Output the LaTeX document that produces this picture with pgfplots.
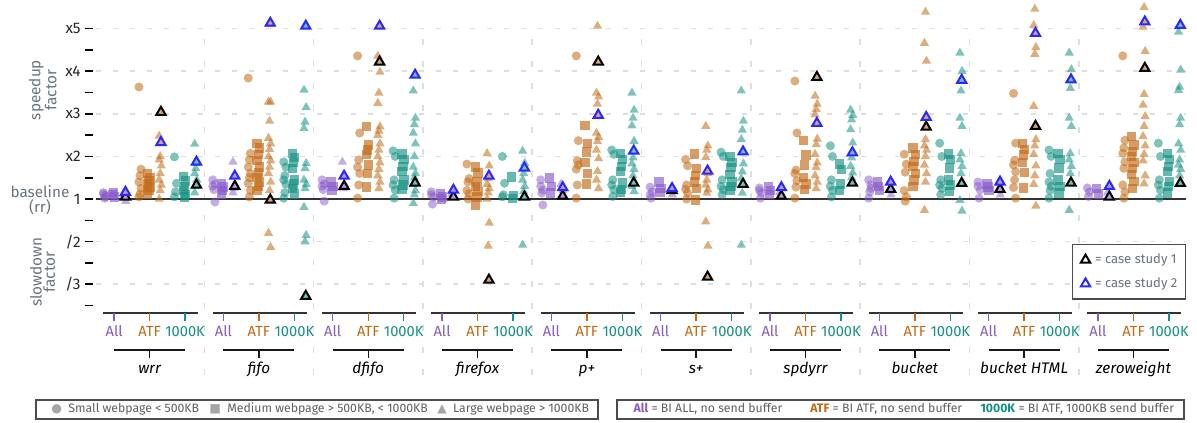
\documentclass[border=0pt]{standalone}
\usepackage{fontspec}
\setmainfont{Fira Sans}
\newfontfamily\symfont{DejaVu Sans}
\usepackage{pgfplots}
\pgfplotsset{compat=1.18}
\usepackage{pgfplotstable}

\definecolor{cAll}{RGB}{135,90,200}
\definecolor{cATF}{RGB}{195,105,20}
\definecolor{cK}{RGB}{20,145,130}
\definecolor{cBlue}{RGB}{40,40,255}
\definecolor{txtgray}{RGB}{105,115,125}
\definecolor{leggray}{RGB}{95,95,95}
\definecolor{gridgray}{RGB}{222,222,222}

% y unit: speedup s -> s-1, slowdown 1/s -> -(s-1)
% x: group g at 3.08*g, configs All/ATF/1000K at +0/+1/+2
\pgfplotstableread{
x y
-0.30 0.15
-0.24 0.08
-0.27 0.02
-0.30 0.12
-0.24 0.05
2.78 0.45
2.84 0.35
2.81 0.22
2.78 0.30
2.84 -0.07
5.86 0.45
5.92 0.35
5.89 0.22
5.86 0.30
5.92 -0.05
8.94 0.17
9.00 0.05
8.97 -0.12
8.94 0.10
12.02 0.45
12.08 0.21
12.05 0.14
12.02 0.30
12.08 -0.14
15.10 0.28
15.16 0.17
15.13 0.02
15.10 0.10
18.18 0.26
18.24 0.14
18.21 0.02
18.18 0.20
21.26 0.45
21.32 0.33
21.29 0.17
21.26 0.02
21.32 0.25
24.34 0.40
24.40 0.21
24.37 0.02
24.34 0.30
27.42 0.26
27.48 0.17
27.45 0.06
}\allC
\pgfplotstableread{
x y
-0.05 0.10
0.01 0.05
-0.02 0.15
3.03 0.35
3.09 0.28
3.06 0.20
3.03 0.12
6.11 0.40
6.17 0.30
6.14 0.20
9.19 0.12
9.25 0.05
9.22 0.00
12.27 0.49
12.33 0.30
12.30 0.14
15.35 0.40
15.41 0.25
15.38 0.15
18.43 0.30
18.49 0.20
18.46 0.10
21.51 0.40
21.57 0.20
21.54 0.30
24.59 0.35
24.65 0.20
24.62 0.28
27.67 0.25
27.73 0.12
}\allS
\pgfplotstableread{
x y
0.27 0.10
0.33 -0.05
0.30 0.05
3.35 0.87
3.41 0.35
3.38 0.25
3.35 0.15
6.43 0.87
6.49 0.35
6.46 0.25
9.51 0.12
9.57 0.05
12.59 0.35
12.65 0.20
12.62 0.10
15.67 0.20
15.73 0.10
18.75 0.15
18.81 0.05
21.83 0.20
21.89 0.10
24.91 0.20
24.97 0.10
27.99 0.15
28.05 0.05
}\allT
\pgfplotstableread{
x y
0.70 2.63
0.76 0.70
0.73 0.55
0.70 0.40
0.76 0.25
0.73 0.12
0.70 0.05
3.78 2.84
3.84 1.07
3.81 0.92
3.78 0.75
3.84 0.60
3.81 0.50
3.78 0.37
3.84 0.20
3.81 0.05
6.86 3.36
6.92 1.55
6.89 0.92
6.86 0.75
6.92 0.60
6.89 0.33
6.86 0.02
9.94 0.82
10.00 0.48
9.97 0.40
9.94 0.20
10.00 0.12
9.97 0.00
13.02 3.36
13.08 1.37
13.05 0.90
13.02 0.70
13.08 0.80
13.05 0.33
13.02 0.02
16.10 0.93
16.16 0.78
16.13 0.33
16.10 0.23
16.16 0.14
16.13 0.00
19.18 2.77
19.24 1.55
19.21 0.68
19.18 0.60
19.24 0.43
19.21 0.28
19.18 0.02
22.26 1.05
22.32 0.82
22.29 0.63
22.26 0.20
22.32 0.05
22.29 -0.05
25.34 2.48
25.40 1.31
25.37 0.91
25.34 0.80
25.40 0.64
25.37 0.45
25.34 0.27
25.40 0.02
28.42 3.36
28.48 1.38
28.45 1.20
28.42 1.07
28.48 0.87
28.45 0.72
28.42 0.33
28.48 0.17
28.45 0.02
}\atfC
\pgfplotstableread{
x y
0.95 0.60
1.01 0.50
0.98 0.42
0.95 0.35
1.01 0.28
0.98 0.20
0.95 0.12
4.03 1.31
4.09 1.20
4.06 1.05
4.03 0.90
4.09 0.75
4.06 0.62
4.03 0.50
4.09 0.40
4.06 0.30
4.03 0.20
7.11 1.71
7.17 1.27
7.14 1.15
7.11 1.05
7.17 0.80
7.14 0.60
7.11 0.28
10.19 0.75
10.25 0.61
10.22 0.40
10.19 0.30
10.25 0.17
10.22 0.05
10.19 -0.14
13.27 1.72
13.33 1.30
13.30 1.10
13.27 0.85
13.33 0.60
13.30 0.35
16.35 1.06
16.41 0.72
16.38 0.55
16.35 0.40
16.41 0.25
16.38 -0.02
19.43 1.38
19.49 1.03
19.46 0.80
19.43 0.50
19.49 0.35
19.46 0.22
22.51 1.20
22.57 1.05
22.54 0.88
22.51 0.77
22.57 0.60
22.54 0.45
22.51 0.30
25.59 1.30
25.65 1.16
25.62 1.03
25.59 0.85
25.65 0.62
25.62 0.26
28.67 1.47
28.73 1.27
28.70 1.11
28.67 1.00
28.73 0.85
28.70 0.72
28.67 0.57
28.73 0.41
28.70 0.25
}\atfS
\pgfplotstableread{
x y
1.27 1.48
1.33 1.31
1.30 1.00
1.27 0.92
1.33 0.78
1.30 0.60
1.27 0.45
1.33 0.33
1.30 0.20
1.27 0.00
4.38 4.10
4.35 2.28
4.41 2.28
4.38 1.83
4.35 1.43
4.41 1.30
4.38 1.17
4.35 1.00
4.41 0.90
4.38 0.75
4.35 0.60
4.41 0.40
4.38 0.20
4.35 -0.80
4.41 -1.13
7.43 3.36
7.49 2.98
7.46 2.49
7.43 2.25
7.49 1.70
7.46 1.60
7.43 1.50
7.49 1.30
7.46 1.15
7.43 1.00
7.49 0.85
7.46 0.70
7.43 0.55
7.49 0.40
7.46 0.25
10.51 1.07
10.57 0.78
10.54 0.48
10.51 0.35
10.57 0.25
10.54 0.15
10.51 0.00
10.57 -0.56
10.54 -1.10
13.62 4.06
13.59 2.49
13.65 2.40
13.62 2.23
13.59 1.55
13.65 1.45
13.62 1.35
13.59 1.15
13.65 0.95
13.62 0.65
13.59 0.45
13.65 0.25
16.67 1.71
16.73 1.25
16.70 1.15
16.67 0.98
16.73 0.60
16.70 0.45
16.67 0.33
16.73 0.22
16.70 0.14
16.67 -0.53
16.73 -1.10
19.75 2.42
19.81 2.23
19.78 2.11
19.75 1.98
19.81 1.41
19.78 1.28
19.75 1.05
19.81 0.85
19.78 0.74
19.75 0.55
19.81 0.40
19.78 0.25
22.86 4.39
22.83 3.66
22.89 3.24
22.86 1.40
22.83 1.25
22.89 1.15
22.86 1.00
22.83 0.80
22.89 0.60
22.86 0.40
22.83 -0.26
25.94 4.46
25.91 4.08
25.97 3.56
25.94 3.40
25.91 2.18
25.97 1.40
25.94 1.25
25.91 1.05
25.97 0.78
25.94 0.55
25.91 0.35
25.97 -0.16
29.02 4.50
28.99 4.04
29.05 3.47
29.02 2.46
28.99 2.21
29.05 1.94
29.02 1.71
28.99 1.47
29.05 1.25
29.02 1.05
28.99 0.90
29.05 0.55
29.02 0.36
}\atfT
\pgfplotstableread{
x y
1.70 0.99
1.76 0.37
1.73 0.17
1.70 0.05
4.78 0.87
4.84 0.75
4.81 0.55
4.78 0.45
4.84 0.35
4.81 0.15
4.78 0.02
7.86 1.13
7.92 1.00
7.89 0.45
7.86 0.33
7.92 0.21
7.89 0.02
10.94 1.00
11.00 0.37
10.97 0.10
10.94 0.05
14.02 1.15
14.08 1.05
14.05 0.45
14.02 0.33
14.08 0.22
14.05 0.06
17.10 1.10
17.16 1.00
17.13 0.45
17.10 0.30
17.16 0.22
17.13 0.10
20.18 1.25
20.24 1.00
20.21 0.45
20.18 0.30
20.24 0.20
20.21 0.05
23.26 1.31
23.32 1.00
23.29 0.45
23.26 0.33
23.32 0.25
23.29 0.10
26.34 1.15
26.40 1.00
26.37 0.60
26.34 0.40
26.40 0.30
26.37 0.20
26.34 0.02
29.42 1.31
29.48 1.00
29.45 0.45
29.42 0.33
29.48 0.21
29.45 0.02
}\kC
\pgfplotstableread{
x y
1.95 0.53
2.01 0.42
1.98 0.30
1.95 0.20
2.01 0.10
1.98 0.05
5.03 1.07
5.09 0.97
5.06 0.85
5.03 0.72
5.09 0.45
5.06 0.35
5.03 0.25
5.09 0.12
8.11 1.06
8.17 0.92
8.14 0.77
8.11 0.65
8.17 0.45
8.14 0.33
8.11 0.22
11.19 0.52
11.25 0.08
11.22 0.02
14.27 1.07
14.33 0.92
14.30 0.77
14.27 0.65
14.33 0.38
14.30 0.22
14.27 0.15
17.35 1.00
17.41 0.86
17.38 0.74
17.35 0.58
17.41 0.40
17.38 0.30
17.35 0.20
20.43 0.82
20.49 0.70
20.46 0.35
20.43 0.20
23.51 1.06
23.57 0.92
23.54 0.73
23.51 0.45
23.57 0.33
23.54 0.18
26.59 1.07
26.65 0.92
26.62 0.73
26.59 0.45
26.65 0.30
26.62 0.14
29.67 1.07
29.73 0.92
29.70 0.77
29.67 0.65
29.73 0.41
29.70 0.30
29.67 0.14
}\kS
\pgfplotstableread{
x y
2.27 1.29
2.33 0.84
2.30 0.72
2.27 0.60
2.33 0.45
2.30 0.30
2.27 0.15
5.35 2.56
5.41 2.15
5.38 1.81
5.35 1.66
5.41 0.84
5.38 0.72
5.35 0.45
5.41 0.35
5.38 0.25
5.35 -0.19
5.41 -0.85
5.38 -1.00
8.43 2.54
8.49 1.90
8.46 1.75
8.43 1.55
8.49 1.30
8.46 1.00
8.43 0.75
8.49 0.60
8.46 0.50
8.43 0.35
8.49 0.20
8.46 0.10
8.43 -0.10
11.51 1.13
11.57 0.84
11.54 0.60
11.51 0.45
11.57 0.30
11.54 0.18
11.51 -1.08
14.59 2.49
14.65 2.09
14.62 1.90
14.59 1.72
14.65 1.36
14.62 0.97
14.59 0.83
14.65 0.70
14.62 0.55
14.59 0.30
14.65 0.18
17.67 2.54
17.73 1.83
17.70 1.62
17.67 1.40
17.73 0.83
17.70 0.64
17.67 0.48
17.73 0.33
17.70 0.14
17.67 -1.08
20.75 2.09
20.81 1.97
20.78 1.86
20.75 1.63
20.81 1.32
20.78 0.97
20.75 0.77
20.81 0.62
20.78 0.50
23.83 3.43
23.89 3.00
23.86 2.54
23.83 1.90
23.89 1.71
23.86 1.07
23.83 0.92
23.89 0.77
23.86 0.60
23.83 -0.03
23.89 -0.28
26.91 3.43
26.97 3.04
26.94 2.60
26.91 1.90
26.97 1.71
26.94 1.07
26.91 0.92
26.97 0.77
26.94 0.60
26.91 -0.26
29.99 3.92
30.05 3.03
30.02 2.63
29.99 2.55
30.05 1.90
30.02 1.75
29.99 1.30
30.05 1.15
30.02 0.92
29.99 0.80
30.05 0.70
30.02 0.55
}\kT
% case studies, split by configuration
\pgfplotstableread{
x y
0.32 0.05
3.40 0.30
6.48 0.30
9.56 0.05
12.64 0.07
15.72 0.20
18.80 0.07
21.88 0.23
24.96 0.23
28.04 0.05
}\caseOneAll
\pgfplotstableread{
x y
1.32 2.04
4.40 -0.02
7.48 3.22
10.56 -1.90
13.64 3.22
16.72 -1.83
19.80 2.86
22.88 1.69
25.96 1.71
29.04 3.07
}\caseOneATF
\pgfplotstableread{
x y
2.32 0.33
5.40 -2.28
8.48 0.38
11.56 0.05
14.64 0.38
17.72 0.35
20.80 0.38
23.88 0.37
26.96 0.38
30.04 0.37
}\caseOneK
\pgfplotstableread{
x y
0.32 0.16
3.40 0.54
6.48 0.54
9.56 0.21
12.64 0.27
15.72 0.25
18.80 0.27
21.88 0.40
24.96 0.40
28.04 0.30
}\caseTwoAll
\pgfplotstableread{
x y
1.32 1.33
4.40 4.13
7.48 4.06
10.56 0.54
13.64 1.97
16.72 0.66
19.80 1.78
22.88 1.92
25.96 3.89
29.04 4.16
}\caseTwoATF
\pgfplotstableread{
x y
2.32 0.87
5.40 4.06
8.48 2.91
11.56 0.73
14.64 1.13
17.72 1.11
20.80 1.09
23.88 2.79
26.96 2.80
30.04 4.08
}\caseTwoK

\newcommand\ticklabfont{\fontsize{11}{12}\selectfont}
\newcommand\grpfont{\fontsize{11.5}{12}\selectfont\itshape}
% #1 All, #2 ATF, #3 1000K positions, #4/#5 segment ends, #6 name
\newcommand\grp[6]{%
  \draw[black!80, line width=1.5pt] (axis cs:#4,-2.68) -- (axis cs:#5,-2.68);
  \draw[cAll, line width=1.1pt] (axis cs:#1,-2.68) -- ++(0pt,-6pt);
  \draw[cATF, line width=1.1pt] (axis cs:#2,-2.68) -- ++(0pt,-6pt);
  \draw[cK, line width=1.1pt] (axis cs:#3,-2.68) -- ++(0pt,-6pt);
  \node[text=cAll, font=\ticklabfont, inner sep=0pt] at ([yshift=-13.5pt]axis cs:#1,-2.68) {All};
  \node[text=cATF, font=\ticklabfont, inner sep=0pt] at ([yshift=-13.5pt]axis cs:#2,-2.68) {ATF};
  \node[text=cK, font=\ticklabfont, inner sep=0pt] at ([yshift=-13.5pt]axis cs:#3,-2.68) {1000K};
  \draw[black!90, line width=1.1pt] ([yshift=-27.75pt]axis cs:#1,-2.68) -- ([yshift=-27.75pt]axis cs:#3,-2.68);
  \draw[black!90, line width=1.1pt] ([yshift=-27.75pt]axis cs:#2,-2.68) -- ++(0pt,-6pt);
  \node[anchor=base, font=\grpfont, inner sep=0pt] at ([yshift=-45pt]axis cs:#2,-2.68) {#6};
}

\begin{document}
\begin{tikzpicture}
\path[use as bounding box] (-72pt,-82.35pt) rectangle (825.75pt,234.9pt);
\begin{axis}[
  at={(0,0)}, anchor=south west,
  scale only axis, width=817.5pt, height=232.6pt,
  xmin=-0.51, xmax=30.2, ymin=-2.68, ymax=4.6,
  clip=false,
  axis x line=none,
  axis y line*=left,
  y axis line style={draw=none},
  ytick={-2,-1,0,1,2,3,4},
  yticklabels={/3,/2,1,x2,x3,x4,x5},
  minor ytick={-2.5,-1.5,-0.5,0.5,1.5,2.5,3.5},
  tick align=outside,
  major tick length=6pt, minor tick length=6pt,
  ytick style={draw=none},
  yticklabel style={font=\fontsize{11.5}{12}\selectfont, text=black!85, xshift=-2pt},
  ymajorgrids,
  major grid style={gridgray, line width=1.1pt, dash pattern=on 3.75pt off 9pt},
  legend style={at={(axis cs:26.99,-1.06)}, anchor=north west,
    draw=black!70, line width=0.8pt, fill=white,
    font=\fontsize{9.8}{11}\selectfont, text=txtgray,
    inner xsep=4pt, inner ysep=5pt, row sep=5pt},
  legend cell align=left,
  legend image code/.code={%
    \path[draw=none, fill=none] (0cm,-0.1cm) rectangle (0.38cm,0.1cm);
    \draw[mark repeat=2, mark phase=2, #1] plot coordinates {(0cm,0cm) (0.2cm,0cm) (0.4cm,0cm)};},
]
% group separators and baseline
\pgfplotsinvokeforeach{2.54,5.62,8.70,11.78,14.86,17.94,21.02,24.10,27.18}{
  \draw[gridgray, line width=1.1pt, dash pattern=on 4.5pt off 12pt] (axis cs:#1,3.75) -- (axis cs:#1,-4.30);
}
\draw[black!80, line width=1.4pt] (axis cs:-0.51,0) -- (axis cs:30.2,0);
% y tick marks, set off from the plot edge
\pgfplotsinvokeforeach{-2.5,-2,-1.5,-1,-0.5,0,0.5,1,1.5,2,2.5,3,3.5,4}{
  \draw[black, line width=1.2pt] ([xshift=-8.5pt]axis cs:-0.51,#1) -- ([xshift=-2.5pt]axis cs:-0.51,#1);
}

\addlegendimage{only marks, mark=triangle*, mark options={draw=black, fill=white, line width=1.5pt, mark size=4pt}}
\addlegendentry{= case study 1}
\addlegendimage{only marks, mark=triangle*, mark options={draw=cBlue, fill=white, line width=1.5pt, mark size=4pt}}
\addlegendentry{= case study 2}

% small (circles), medium (squares), large (triangles)
\addplot[forget plot, only marks, mark=*, mark options={draw opacity=0, fill=cAll, fill opacity=0.5, mark size=3.4pt}] table {\allC};
\addplot[forget plot, only marks, mark=square*, mark options={draw opacity=0, fill=cAll, fill opacity=0.65, mark size=3.5pt}] table {\allS};
\addplot[forget plot, only marks, mark=triangle*, mark options={draw opacity=0, fill=cAll, fill opacity=0.5, mark size=4pt}] table {\allT};
\addplot[forget plot, only marks, mark=*, mark options={draw opacity=0, fill=cATF, fill opacity=0.55, mark size=3.4pt}] table {\atfC};
\addplot[forget plot, only marks, mark=square*, mark options={draw opacity=0, fill=cATF, fill opacity=0.65, mark size=3.5pt}] table {\atfS};
\addplot[forget plot, only marks, mark=triangle*, mark options={draw opacity=0, fill=cATF, fill opacity=0.55, mark size=4pt}] table {\atfT};
\addplot[forget plot, only marks, mark=*, mark options={draw opacity=0, fill=cK, fill opacity=0.55, mark size=3.4pt}] table {\kC};
\addplot[forget plot, only marks, mark=square*, mark options={draw opacity=0, fill=cK, fill opacity=0.65, mark size=3.5pt}] table {\kS};
\addplot[forget plot, only marks, mark=triangle*, mark options={draw opacity=0, fill=cK, fill opacity=0.55, mark size=4pt}] table {\kT};

% case studies
\addplot[forget plot, only marks, mark=triangle*, mark options={draw=black, fill=cAll!60, line width=1.5pt, mark size=4pt}] table {\caseOneAll};
\addplot[forget plot, only marks, mark=triangle*, mark options={draw=black, fill=cATF!60, line width=1.5pt, mark size=4pt}] table {\caseOneATF};
\addplot[forget plot, only marks, mark=triangle*, mark options={draw=black, fill=cK!60, line width=1.5pt, mark size=4pt}] table {\caseOneK};
\addplot[forget plot, only marks, mark=triangle*, mark options={draw=cBlue, fill=cAll!60, line width=1.5pt, mark size=4pt}] table {\caseTwoAll};
\addplot[forget plot, only marks, mark=triangle*, mark options={draw=cBlue, fill=cATF!60, line width=1.5pt, mark size=4pt}] table {\caseTwoATF};
\addplot[forget plot, only marks, mark=triangle*, mark options={draw=cBlue, fill=cK!60, line width=1.5pt, mark size=4pt}] table {\caseTwoK};

% category axis
\grp{0}{1}{2}{-0.3}{2.35}{wrr}
\grp{3.08}{4.08}{5.08}{2.78}{5.43}{fifo}
\grp{6.16}{7.16}{8.16}{5.86}{8.51}{dfifo}
\grp{9.24}{10.24}{11.24}{8.94}{11.59}{firefox}
\grp{12.32}{13.32}{14.32}{12.02}{14.67}{p+}
\grp{15.40}{16.40}{17.40}{15.10}{17.75}{s+}
\grp{18.48}{19.48}{20.48}{18.18}{20.83}{spdyrr}
\grp{21.56}{22.56}{23.56}{21.26}{23.91}{bucket}
\grp{24.64}{25.64}{26.64}{24.34}{26.99}{bucket HTML}
\grp{27.72}{28.72}{29.72}{27.42}{30.07}{zeroweight}
\end{axis}

% y axis titles
\node[rotate=90, align=center, text=txtgray, font=\fontsize{11.5}{10}\selectfont] at (-40pt,167.4pt) {speedup\\factor};
\node[rotate=90, align=center, text=txtgray, font=\fontsize{11.5}{10}\selectfont] at (-40pt,30.9pt) {slowdown\\factor};
\node[align=center, text=txtgray, font=\fontsize{11.5}{11.25}\selectfont] at (-42pt,84.5pt) {baseline\\(rr)};

% bottom legends
\draw[black!70, line width=0.8pt] (-45pt,-65.1pt) rectangle (376.5pt,-79.35pt);
\draw[black!70, line width=0.8pt] (390.75pt,-65.1pt) rectangle (816pt,-79.35pt);
\begin{scope}[every node/.style={anchor=base west, inner sep=0pt, text=leggray, font=\fontsize{9.2}{10}\selectfont}]
\node at (-33.75pt,-74.85pt) {{\symfont\textcolor{black!35}{●}}\ \ Small webpage < 500KB};
\node at (84.75pt,-74.85pt) {{\symfont\textcolor{black!35}{■}}\ \ Medium webpage > 500KB, < 1000KB};
\node at (255.75pt,-74.85pt) {{\symfont\textcolor{black!35}{▲}}\ \ Large webpage > 1000KB};
\node at (403.1pt,-74.85pt) {\textcolor{cAll}{\bfseries All} = BI ALL, no send buffer};
\node at (535.5pt,-74.85pt) {\textcolor{cATF}{\bfseries ATF} = BI ATF, no send buffer};
\node at (663pt,-74.85pt) {\textcolor{cK}{\bfseries 1000K} = BI ATF, 1000KB send buffer};
\end{scope}
\end{tikzpicture}
\end{document}
